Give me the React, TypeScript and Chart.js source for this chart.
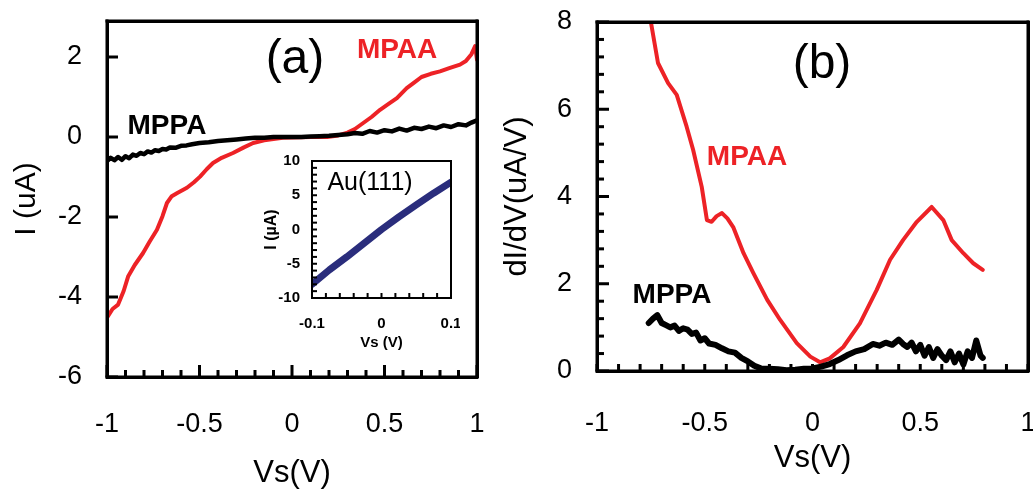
import React, { useEffect, useRef } from "react";
import { Chart, registerables } from "chart.js";

Chart.register(...registerables);

// ---------- Panel (a): I-V curves ----------
const MPAA_A_X = [-1, -0.97, -0.94, -0.91, -0.886, -0.85, -0.805, -0.77, -0.73, -0.70, -0.676, -0.65, -0.62, -0.568, -0.53, -0.497, -0.46, -0.427, -0.38, -0.319, -0.26, -0.21, -0.15, -0.1, -0.05, 0, 0.1, 0.19, 0.25, 0.3, 0.34, 0.385, 0.43, 0.476, 0.52, 0.567, 0.62, 0.66, 0.70, 0.75, 0.80, 0.85, 0.908, 0.94, 0.97, 0.99, 1.0];
const MPAA_A_Y = [-4.52, -4.3, -4.19, -3.85, -3.49, -3.2, -2.9, -2.62, -2.32, -1.98, -1.65, -1.48, -1.4, -1.27, -1.13, -0.99, -0.8, -0.65, -0.52, -0.4, -0.26, -0.15, -0.08, -0.05, -0.02, -0.01, 0, 0, 0.04, 0.11, 0.2, 0.35, 0.5, 0.68, 0.82, 0.97, 1.22, 1.36, 1.5, 1.58, 1.64, 1.72, 1.81, 1.9, 2.07, 2.27, 1.93];

const MPPA_A_X = [-1, -0.98, -0.96, -0.94, -0.92, -0.9, -0.88, -0.86, -0.84, -0.82, -0.8, -0.78, -0.76, -0.74, -0.72, -0.7, -0.68, -0.66, -0.63, -0.6, -0.57, -0.54, -0.5, -0.45, -0.4, -0.35, -0.3, -0.25, -0.2, -0.15, -0.1, -0.05, 0, 0.05, 0.1, 0.15, 0.2, 0.25, 0.3, 0.34, 0.38, 0.42, 0.46, 0.5, 0.54, 0.58, 0.62, 0.66, 0.7, 0.74, 0.78, 0.82, 0.86, 0.9, 0.94, 0.97, 1];
const MPPA_A_Y = [-0.6, -0.52, -0.58, -0.5, -0.57, -0.48, -0.53, -0.44, -0.47, -0.4, -0.43, -0.36, -0.39, -0.33, -0.35, -0.3, -0.31, -0.26, -0.27, -0.22, -0.21, -0.18, -0.15, -0.13, -0.1, -0.08, -0.06, -0.04, -0.02, -0.02, 0, 0, 0, 0, 0.01, 0.02, 0.03, 0.05, 0.07, 0.1, 0.08, 0.15, 0.11, 0.17, 0.14, 0.21, 0.16, 0.23, 0.2, 0.26, 0.22, 0.29, 0.25, 0.32, 0.29, 0.36, 0.42];

const A_X_TICKS = [-1, -0.5, 0, 0.5, 1];
const A_Y_TICKS = [-6, -4, -2, 0, 2];

// ---------- Inset: Au(111) ----------
const AU_X = [-0.1, -0.075, -0.05, -0.025, 0, 0.025, 0.05, 0.075, 0.1];
const AU_Y = [-8, -5.9, -4, -2, 0, 1.85, 3.6, 5.3, 6.9];
const IN_X_TICKS = [-0.1, 0, 0.1];
const IN_Y_TICKS = [-10, -5, 0, 5, 10];

// ---------- Panel (b): dI/dV ----------
const MPAA_B_X = [-0.75, -0.717, -0.67, -0.63, -0.584, -0.554, -0.514, -0.49, -0.468, -0.445, -0.42, -0.395, -0.368, -0.32, -0.275, -0.21, -0.15, -0.073, -0.01, 0.035, 0.08, 0.143, 0.22, 0.298, 0.36, 0.42, 0.484, 0.553, 0.607, 0.646, 0.70, 0.746, 0.79];
const MPAA_B_Y = [8.0, 7.06, 6.6, 6.33, 5.6, 5.07, 4.22, 3.46, 3.42, 3.55, 3.62, 3.5, 3.3, 2.7, 2.25, 1.63, 1.17, 0.64, 0.33, 0.2, 0.29, 0.55, 1.09, 1.86, 2.55, 3.0, 3.42, 3.76, 3.46, 3.0, 2.7, 2.47, 2.32];

const MPPA_B_X = [-0.76, -0.74, -0.72, -0.7, -0.68, -0.66, -0.64, -0.62, -0.6, -0.58, -0.56, -0.54, -0.52, -0.5, -0.48, -0.45, -0.42, -0.39, -0.36, -0.33, -0.3, -0.27, -0.24, -0.2, -0.16, -0.12, -0.08, -0.04, 0, 0.04, 0.08, 0.12, 0.16, 0.2, 0.24, 0.28, 0.31, 0.34, 0.37, 0.4, 0.42, 0.44, 0.46, 0.48, 0.5, 0.52, 0.54, 0.56, 0.58, 0.6, 0.62, 0.64, 0.66, 0.68, 0.7, 0.72, 0.74, 0.76, 0.78, 0.79];
const MPPA_B_Y = [1.1, 1.2, 1.28, 1.1, 1.05, 1.0, 1.04, 0.92, 0.98, 0.95, 0.85, 0.88, 0.7, 0.75, 0.63, 0.6, 0.52, 0.45, 0.42, 0.3, 0.22, 0.12, 0.06, 0.05, 0.04, 0.02, 0.03, 0.05, 0.06, 0.1, 0.16, 0.25, 0.36, 0.45, 0.5, 0.62, 0.58, 0.65, 0.6, 0.72, 0.62, 0.55, 0.65, 0.45, 0.6, 0.35, 0.55, 0.3, 0.5, 0.35, 0.25, 0.45, 0.2, 0.4, 0.15, 0.45, 0.3, 0.7, 0.35, 0.3];

const B_X_TICKS = [-1, -0.5, 0, 0.5, 1];
const B_Y_TICKS = [0, 2, 4, 6, 8];

const RED = "#ed2226";
const BLACK = "#000000";
const NAVY = "#2a2d7c";
const FONT = "'Liberation Sans', Arial, Helvetica, sans-serif";

const pts = (xs: number[], ys: number[]) => xs.map((x, i) => ({ x, y: ys[i] }));

const steps = (min: number, max: number, step: number) => {
  const out: number[] = [];
  const n = Math.round((max - min) / step);
  for (let i = 0; i <= n; i++) out.push(Math.round((min + i * step) * 1e6) / 1e6);
  return out;
};
const isMult = (v: number, m: number) => Math.abs(v / m - Math.round(v / m)) < 1e-6;

function makeFramePlugin(o: any) {
  return {
    id: "frameTicks",
    afterDraw(chart: any) {
      const ctx = chart.ctx;
      const a = chart.chartArea;
      const xs = chart.scales.x;
      const ys = chart.scales.y;
      const tw = o.tickWidth;
      const fw = o.frameWidth;
      ctx.save();
      ctx.fillStyle = "#000";
      for (const v of steps(xs.min, xs.max, o.xStep)) {
        const p = xs.getPixelForValue(v);
        const len = isMult(v, o.xMajor) ? o.xMajorLen : o.xMinorLen;
        ctx.fillRect(p - tw / 2, a.bottom - len, tw, len);
      }
      for (const v of steps(ys.min, ys.max, o.yStep)) {
        const p = ys.getPixelForValue(v);
        const len = isMult(v, o.yMajor) ? o.yMajorLen : o.yMinorLen;
        ctx.fillRect(a.left, p - tw / 2, len, tw);
      }
      const w = a.right - a.left;
      const h = a.bottom - a.top;
      ctx.fillRect(a.left - fw / 2, a.top - fw / 2, w + fw, fw);
      ctx.fillRect(a.right - fw / 2, a.top - fw / 2, fw, h + fw);
      ctx.fillRect(a.left - fw / 2, a.bottom - fw / 2, w + fw, fw);
      ctx.fillRect(a.left - fw / 2, a.top - fw / 2, fw, h + fw);
      ctx.textAlign = "center";
      ctx.textBaseline = "middle";
      for (const t of o.labels) {
        ctx.font = t.font;
        ctx.fillStyle = t.color;
        ctx.fillText(t.text, xs.getPixelForValue(t.x), ys.getPixelForValue(t.y));
      }
      ctx.restore();
    },
  };
}

type Cfg = {
  datasets: any[];
  xMin: number; xMax: number; yMin: number; yMax: number;
  xTicks: number[]; yTicks: number[];
  yWidth: number; xHeight: number;
  pad: { left: number; top: number; right: number; bottom: number };
  tickFont: any; yTickPad: number; xTickPad: number;
  xTitle: string; yTitle: string; titleFontX: any; titleFontY: any;
  xTitlePad: number; yTitlePad: number;
  frame: any;
};

function makeConfig(c: Cfg): any {
  const bw = c.frame.frameWidth;
  const zeroPad = (s: any) => { s.paddingLeft = 0; s.paddingRight = 0; s.paddingTop = 0; s.paddingBottom = 0; };
  return {
    type: "line",
    data: { datasets: c.datasets },
    plugins: [makeFramePlugin(c.frame)],
    options: {
      animation: false,
      responsive: false,
      maintainAspectRatio: false,
      layout: { padding: c.pad },
      plugins: { legend: { display: false }, tooltip: { enabled: false } },
      scales: {
        x: {
          type: "linear",
          position: "bottom",
          min: c.xMin,
          max: c.xMax,
          grid: { display: false, drawTicks: false },
          border: { display: true, color: "#000", width: bw, z: 1 },
          afterBuildTicks: (s: any) => { s.ticks = c.xTicks.map((v) => ({ value: v })); },
          afterFit: (s: any) => { s.height = c.xHeight; zeroPad(s); },
          ticks: { color: "#000", font: c.tickFont, padding: c.xTickPad, maxRotation: 0, autoSkip: false, callback: (v: any) => String(v) },
          title: { display: true, text: c.xTitle, color: "#000", font: c.titleFontX, padding: { top: 0, bottom: c.xTitlePad } },
        },
        x2: {
          type: "linear",
          position: "top",
          min: c.xMin,
          max: c.xMax,
          grid: { display: false, drawTicks: false },
          border: { display: true, color: "#000", width: bw, z: 1 },
          ticks: { display: false },
          afterFit: (s: any) => { s.height = 0; zeroPad(s); },
        },
        y: {
          type: "linear",
          position: "left",
          min: c.yMin,
          max: c.yMax,
          grid: { display: false, drawTicks: false },
          border: { display: true, color: "#000", width: bw, z: 1 },
          afterBuildTicks: (s: any) => { s.ticks = c.yTicks.map((v) => ({ value: v })); },
          afterFit: (s: any) => { s.width = c.yWidth; zeroPad(s); },
          ticks: { color: "#000", font: c.tickFont, padding: c.yTickPad, autoSkip: false, callback: (v: any) => String(v) },
          title: { display: true, text: c.yTitle, color: "#000", font: c.titleFontY, padding: { top: c.yTitlePad, bottom: 0 } },
        },
        y2: {
          type: "linear",
          position: "right",
          min: c.yMin,
          max: c.yMax,
          grid: { display: false, drawTicks: false },
          border: { display: true, color: "#000", width: bw, z: 1 },
          ticks: { display: false },
          afterFit: (s: any) => { s.width = 0; zeroPad(s); },
        },
      },
    },
  };
}

const line = (data: any[], color: string, width: number) => ({
  data,
  xAxisID: "x",
  yAxisID: "y",
  borderColor: color,
  borderWidth: width,
  pointRadius: 0,
  tension: 0,
  borderJoinStyle: "round",
  borderCapStyle: "round",
});

function useChart(ref: React.RefObject<HTMLCanvasElement | null>, build: () => any) {
  useEffect(() => {
    if (!ref.current) return;
    const ch = new Chart(ref.current, build());
    return () => ch.destroy();
  }, []);
}

export default function App() {
  const aRef = useRef<HTMLCanvasElement>(null);
  const bRef = useRef<HTMLCanvasElement>(null);
  const iRef = useRef<HTMLCanvasElement>(null);

  const mainTick = { family: FONT, size: 27 };

  useChart(aRef, () =>
    makeConfig({
      datasets: [line(pts(MPPA_A_X, MPPA_A_Y), BLACK, 4.5), line(pts(MPAA_A_X, MPAA_A_Y), RED, 4)],
      xMin: -1, xMax: 1, yMin: -6, yMax: 2.9,
      xTicks: A_X_TICKS, yTicks: A_Y_TICKS,
      yWidth: 107, xHeight: 112,
      pad: { left: 0, top: 21, right: 23, bottom: 0 },
      tickFont: mainTick, yTickPad: 25, xTickPad: 31,
      xTitle: "Vs(V)", yTitle: "I (uA)",
      titleFontX: { family: FONT, size: 31, lineHeight: 1 },
      titleFontY: { family: FONT, size: 30, lineHeight: 1 },
      xTitlePad: 0, yTitlePad: 12,
      frame: {
        tickWidth: 3, frameWidth: 3,
        xStep: 0.1, xMajor: 0.5, xMajorLen: 12, xMinorLen: 7,
        yStep: 2, yMajor: 2, yMajorLen: 11, yMinorLen: 11,
        labels: [
          { text: "(a)", x: 0.016, y: 1.93, font: `48px ${FONT}`, color: BLACK },
          { text: "MPAA", x: 0.568, y: 2.18, font: `bold 28px ${FONT}`, color: RED },
          { text: "MPPA", x: -0.676, y: 0.26, font: `bold 28px ${FONT}`, color: BLACK },
        ],
      },
    })
  );

  useChart(bRef, () =>
    makeConfig({
      datasets: [line(pts(MPPA_B_X, MPPA_B_Y), BLACK, 6), line(pts(MPAA_B_X, MPAA_B_Y), RED, 4)],
      xMin: -1, xMax: 1, yMin: 0, yMax: 8,
      xTicks: B_X_TICKS, yTicks: B_Y_TICKS,
      yWidth: 97, xHeight: 118,
      pad: { left: 0, top: 22, right: 5, bottom: 0 },
      tickFont: mainTick, yTickPad: 25, xTickPad: 36,
      xTitle: "Vs(V)", yTitle: "dI/dV(uA/V)",
      titleFontX: { family: FONT, size: 31, lineHeight: 1 },
      titleFontY: { family: FONT, size: 31, lineHeight: 1 },
      xTitlePad: 15, yTitlePad: 2,
      frame: {
        tickWidth: 3, frameWidth: 3,
        xStep: 0.1, xMajor: 0.5, xMajorLen: 7, xMinorLen: 7,
        yStep: 0.4, yMajor: 2, yMajorLen: 12, yMinorLen: 7,
        labels: [
          { text: "(b)", x: 0.044, y: 7.02, font: `48px ${FONT}`, color: BLACK },
          { text: "MPAA", x: -0.304, y: 4.89, font: `bold 28px ${FONT}`, color: RED },
          { text: "MPPA", x: -0.652, y: 1.74, font: `bold 28px ${FONT}`, color: BLACK },
        ],
      },
    })
  );

  useChart(iRef, () =>
    makeConfig({
      datasets: [line(pts(AU_X, AU_Y), NAVY, 7)],
      xMin: -0.1, xMax: 0.1, yMin: -10, yMax: 10,
      xTicks: IN_X_TICKS, yTicks: IN_Y_TICKS,
      yWidth: 57, xHeight: 55,
      pad: { left: 0, top: 13, right: 9, bottom: 0 },
      tickFont: { family: FONT, size: 15, weight: "bold" }, yTickPad: 12, xTickPad: 17,
      xTitle: "Vs (V)", yTitle: "I (\u00b5A)",
      titleFontX: { family: FONT, size: 15, weight: "bold", lineHeight: 1 },
      titleFontY: { family: FONT, size: 16, weight: "bold", lineHeight: 1 },
      xTitlePad: 3, yTitlePad: 9,
      frame: {
        tickWidth: 2, frameWidth: 2,
        xStep: 0.02, xMajor: 0.1, xMajorLen: 5, xMinorLen: 5,
        yStep: 1, yMajor: 5, yMajorLen: 5, yMinorLen: 5,
        labels: [{ text: "Au(111)", x: -0.0165, y: 6.8, font: `25px ${FONT}`, color: BLACK }],
      },
    })
  );

  return (
    <div style={{ position: "fixed", left: 0, top: 0, width: 1033, height: 489, background: "#fff" }}>
      <canvas ref={aRef} width={500} height={489} style={{ position: "absolute", left: 0, top: 0, width: 500, height: 489 }} />
      <canvas ref={bRef} width={533} height={489} style={{ position: "absolute", left: 500, top: 0, width: 533, height: 489 }} />
      <canvas ref={iRef} width={205} height={205} style={{ position: "absolute", left: 255, top: 148, width: 205, height: 205 }} />
    </div>
  );
}
